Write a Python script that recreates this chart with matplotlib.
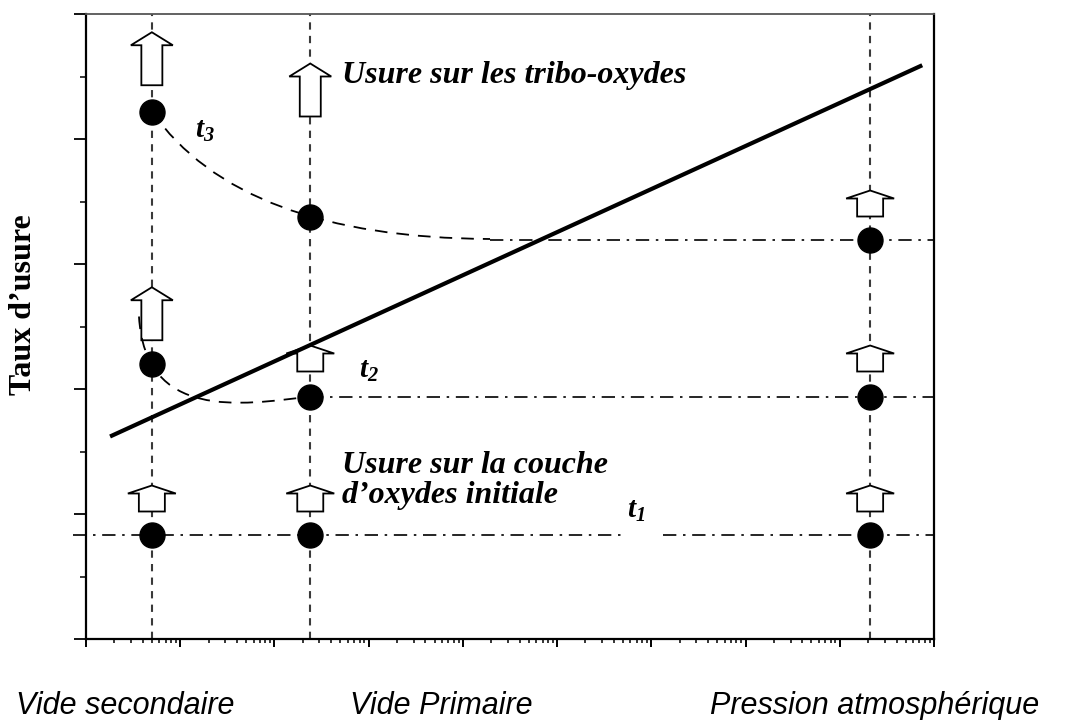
import matplotlib
matplotlib.use("Agg")
import matplotlib.pyplot as plt
import matplotlib.transforms as mtransforms
from matplotlib.path import Path
from matplotlib.patches import PathPatch, Polygon
from matplotlib.ticker import LogLocator, MultipleLocator, NullFormatter

plt.rcParams['mathtext.fontset'] = 'custom'
plt.rcParams['mathtext.bf'] = 'Liberation Serif:bold:italic'
plt.rcParams['mathtext.rm'] = 'Liberation Serif:bold:italic'

# --- pressure regimes (log x axis) ---
regimes = ["Vide secondaire", "Vide Primaire", "Pression atmosphérique"]
pressure = [5e-6, 2.4e-4, 2.1e2]

# --- wear rate at each regime for the three durations ---
wear_t1 = [0.83, 0.83, 0.83]
wear_t2 = [2.20, 1.94, 1.94]
wear_t3 = [4.22, 3.38, 3.19]

# --- overall trend ---
trend_x = [1.8e-6, 7.5e2]
trend_y = [1.62, 4.59]

# --- plateau extents (x start, x end) per duration ---
plateau_t1 = [(7.3e-7, 0.55), (1.33, 1e3)]
plateau_t2 = [(2.4e-4, 1e3)]
plateau_t3 = [(1.94e-2, 1e3)]

# --- guide curves (Bezier control points) ---
curve_t3_x = [5e-6, 4.3e-5, 1.94e-2]
curve_t3_y = [4.22, 3.21, 3.20]
curve_t2_x = [3.65e-6, 4.23e-6, 4.3e-5, 2.4e-4]
curve_t2_y = [2.58, 1.75, 1.87, 1.94]

# --- hollow arrows (x, base level) ---
big_arrow_x = [5e-6, 2.4e-4, 5e-6]
big_arrow_base = [4.43, 4.18, 2.39]
small_arrow_x = [2.1e2, 2.4e-4, 2.1e2, 5e-6, 2.4e-4, 2.1e2]
small_arrow_base = [3.38, 2.14, 2.14, 1.02, 1.02, 1.02]

fig = plt.figure(figsize=(10.73, 7.2), dpi=100)
ax = fig.add_axes([86 / 1073, 81 / 720, 848 / 1073, 625 / 720])
ax.set_xscale('log')
ax.set_xlim(1e-6, 1e3)
ax.set_ylim(0, 5)

# ticks without labels
ax.xaxis.set_major_locator(LogLocator(base=10, numticks=20))
ax.xaxis.set_minor_locator(LogLocator(base=10, subs=range(2, 10), numticks=20))
ax.xaxis.set_major_formatter(NullFormatter())
ax.xaxis.set_minor_formatter(NullFormatter())
ax.yaxis.set_major_locator(MultipleLocator(1))
ax.yaxis.set_minor_locator(MultipleLocator(0.5))
ax.yaxis.set_major_formatter(NullFormatter())
ax.tick_params(axis='x', which='major', direction='out', length=5.5, width=1.4)
ax.tick_params(axis='x', which='minor', direction='out', length=2.8, width=1.1)
ax.tick_params(axis='y', which='major', direction='out', length=9, width=1.3)
ax.tick_params(axis='y', which='minor', direction='out', length=4, width=1.1)
for side in ['left', 'bottom', 'right']:
    ax.spines[side].set_linewidth(1.6)
ax.spines['top'].set_linewidth(1.3)
ax.spines['top'].set_color('#555555')

# vertical regime markers
for p in pressure:
    ax.axvline(p, color='#3a3a3a', lw=1.5, ls=(0, (3.5, 3)), zorder=1)

# plateau lines (dash-dot)
dashdot = (0, (8, 4, 1.5, 4))
for level, segs in [(wear_t1[2], plateau_t1), (wear_t2[2], plateau_t2), (wear_t3[2], plateau_t3)]:
    for x0, x1 in segs:
        ax.plot([x0, x1], [level, level], color='black', lw=1.2, ls=dashdot,
                zorder=2, clip_on=False)

# guide curves
c3 = Path(list(zip(curve_t3_x, curve_t3_y)), [Path.MOVETO, Path.CURVE3, Path.CURVE3])
ax.add_patch(PathPatch(c3, fill=False, ec='black', lw=1.3, ls=(0, (7, 5)), zorder=5))
c2 = Path(list(zip(curve_t2_x, curve_t2_y)),
          [Path.MOVETO, Path.CURVE4, Path.CURVE4, Path.CURVE4])
ax.add_patch(PathPatch(c2, fill=False, ec='black', lw=1.3, ls=(0, (7, 5)), zorder=5))


def hollow_arrow(x, base, w_head, w_shaft, height, h_head):
    pts = [(-w_shaft / 2, 0), (w_shaft / 2, 0), (w_shaft / 2, height - h_head),
           (w_head / 2, height - h_head), (0, height), (-w_head / 2, height - h_head),
           (-w_shaft / 2, height - h_head)]
    tr = (mtransforms.Affine2D().scale(1 / fig.dpi) + fig.dpi_scale_trans +
          mtransforms.ScaledTranslation(x, base, ax.transData))
    ax.add_patch(Polygon(pts, closed=True, fc='white', ec='black', lw=1.3,
                         transform=tr, zorder=4, clip_on=False))


for x, b in zip(big_arrow_x, big_arrow_base):
    hollow_arrow(x, b, 42, 21, 53, 13)
for x, b in zip(small_arrow_x, small_arrow_base):
    hollow_arrow(x, b, 48, 26, 26, 8)

# trend line
ax.plot(trend_x, trend_y, color='black', lw=3, solid_capstyle='butt', zorder=6)

# measured points
for w in (wear_t1, wear_t2, wear_t3):
    ax.plot(pressure, w, ls='none', marker='o', ms=18, color='black', zorder=7)

# annotations
serif_bi = dict(family='Liberation Serif', weight='bold', style='italic', color='black')
ax.text(0.302, 0.902, "Usure sur les tribo-oxydes", transform=ax.transAxes,
        ha='left', va='center', fontsize=23, **serif_bi)
ax.text(0.302, 0.254, "Usure sur la couche\nd\u2019oxydes initiale", transform=ax.transAxes,
        ha='left', va='center', fontsize=23, linespacing=1.05, **serif_bi)
ax.text(0.128, 0.815, r"$\mathbf{t_3}$", transform=ax.transAxes, ha='left', va='center',
        fontsize=21, color='black')
ax.text(0.322, 0.43, r"$\mathbf{t_2}$", transform=ax.transAxes, ha='left', va='center',
        fontsize=21, color='black')
ax.text(0.638, 0.206, r"$\mathbf{t_1}$", transform=ax.transAxes, ha='left', va='center',
        fontsize=21, color='black')

fig.text(24 / 1073, 1 - 305 / 720, "Taux d\u2019usure", rotation=90, ha='center', va='center',
         family='Liberation Serif', weight='bold', fontsize=23)

label_x = [125, 441, 875]
for lx, name in zip(label_x, regimes):
    fig.text(lx / 1073, 1 - 714 / 720, name, ha='center', va='baseline',
             family='Liberation Sans', style='italic', fontsize=22)

fig.savefig("out.png", dpi=100)
